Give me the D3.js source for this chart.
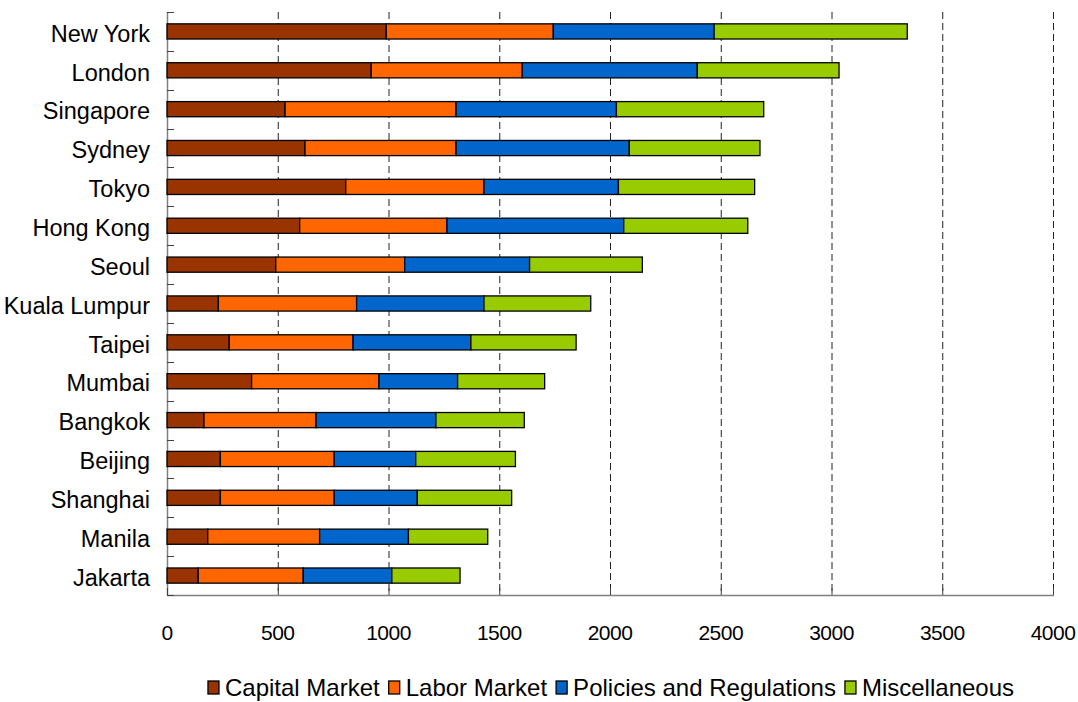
<!DOCTYPE html>
<html>
<head>
<meta charset="utf-8">
<script src="https://cdn.jsdelivr.net/npm/d3@7"></script>
<style>
  body { margin: 0; background: #fff; }
  text { font-family: "Liberation Sans", Arial, sans-serif; fill: #000; }
</style>
</head>
<body>
<svg width="1078" height="702"></svg>
<script>
var cities = ["New York", "London", "Singapore", "Sydney", "Tokyo", "Hong Kong", "Seoul",
  "Kuala Lumpur", "Taipei", "Mumbai", "Bangkok", "Beijing", "Shanghai", "Manila", "Jakarta"];
var capitalMarket = [990, 922, 533, 623, 807, 599, 491, 232, 281, 382, 167, 241, 241, 184, 141];
var laborMarket   = [754, 682, 772, 682, 624, 665, 582, 624, 559, 575, 506, 514, 514, 505, 474];
var policies      = [726, 790, 724, 782, 607, 798, 564, 575, 532, 355, 541, 368, 375, 401, 400];
var miscellaneous = [872, 640, 665, 590, 615, 560, 509, 482, 475, 393, 399, 450, 426, 358, 308];
var seriesNames = ["Capital Market", "Labor Market", "Policies and Regulations", "Miscellaneous"];
var seriesColors = ["#993300", "#ff6600", "#0066cc", "#99cc00"];
var xTicks = [0, 500, 1000, 1500, 2000, 2500, 3000, 3500, 4000];

var svg = d3.select("svg");
var plotLeft = 167, plotRight = 1053, plotTop = 12, plotBottom = 595;

var rows = cities.map(function(c, i) {
  return { city: c, s0: capitalMarket[i], s1: laborMarket[i], s2: policies[i], s3: miscellaneous[i] };
});

var x = d3.scaleLinear().domain([0, 4000]).range([plotLeft, plotRight]);
var y = d3.scaleBand().domain(cities).range([plotTop, plotBottom]).paddingInner(0.61).paddingOuter(0.305);
var yOuter = d3.scaleBand().domain(cities).range([plotTop, plotBottom]);

// dashed grid
svg.append("g").selectAll("line")
  .data(xTicks.slice(1))
  .enter().append("line")
    .attr("x1", function(d) { return x(d) + 0.5; })
    .attr("x2", function(d) { return x(d) + 0.5; })
    .attr("y1", plotTop).attr("y2", plotBottom)
    .attr("stroke", "#222").attr("stroke-width", 1)
    .attr("stroke-dasharray", "7,4");

// axes lines
svg.append("line").attr("x1", plotLeft + 0.5).attr("x2", plotLeft + 0.5)
  .attr("y1", plotTop).attr("y2", plotBottom).attr("stroke", "#808080").attr("stroke-width", 1.5);
svg.append("line").attr("x1", plotLeft).attr("x2", plotRight + 1)
  .attr("y1", plotBottom + 0.5).attr("y2", plotBottom + 0.5).attr("stroke", "#808080").attr("stroke-width", 1.5);

// y ticks at band boundaries (inside)
var bounds = cities.map(function(c) { return yOuter(c); }).concat([plotBottom]);
svg.append("g").selectAll("line")
  .data(bounds)
  .enter().append("line")
    .attr("x1", plotLeft).attr("x2", plotLeft + 7)
    .attr("y1", function(d) { return Math.round(d) + 0.5; })
    .attr("y2", function(d) { return Math.round(d) + 0.5; })
    .attr("stroke", "#404040");

// x ticks (inside)
svg.append("g").selectAll("line")
  .data(xTicks)
  .enter().append("line")
    .attr("x1", function(d) { return x(d) + 0.5; })
    .attr("x2", function(d) { return x(d) + 0.5; })
    .attr("y1", plotBottom - 7).attr("y2", plotBottom)
    .attr("stroke", "#404040");

var stack = d3.stack().keys(["s0", "s1", "s2", "s3"]);
var layers = stack(rows);

svg.append("g").selectAll("g")
  .data(layers)
  .enter().append("g")
    .attr("fill", function(d, i) { return seriesColors[i]; })
  .selectAll("rect")
  .data(function(d) { return d; })
  .enter().append("rect")
    .attr("x", function(d) { return x(d[0]); })
    .attr("width", function(d) { return x(d[1]) - x(d[0]); })
    .attr("y", function(d) { return y(d.data.city); })
    .attr("height", y.bandwidth())
    .attr("stroke", "#000").attr("stroke-width", 1.3);

// category labels
svg.append("g").selectAll("text")
  .data(cities)
  .enter().append("text")
    .attr("x", 150)
    .attr("y", function(d) { return yOuter(d) + yOuter.bandwidth() / 2 + 2; })
    .attr("dy", "0.35em")
    .attr("text-anchor", "end")
    .style("font-size", "23.5px")
    .text(function(d) { return d; });

// x tick labels
svg.append("g").selectAll("text")
  .data(xTicks)
  .enter().append("text")
    .attr("x", function(d) { return x(d); })
    .attr("y", 633)
    .attr("dy", "0.35em")
    .attr("text-anchor", "middle")
    .style("font-size", "21px")
    .style("letter-spacing", "-0.5px")
    .text(function(d) { return d; });

// legend
var legend = svg.append("g");
var lx = 0;
seriesNames.forEach(function(name, i) {
  var g = legend.append("g").attr("transform", "translate(" + lx + ",0)");
  g.append("rect").attr("x", 0).attr("y", -7).attr("width", 11).attr("height", 13)
    .attr("fill", seriesColors[i]).attr("stroke", "#000").attr("stroke-width", 1.3);
  var t = g.append("text").attr("x", 17).attr("y", 0).attr("dy", "0.35em")
    .style("font-size", "24px").text(name);
  lx += 17 + t.node().getComputedTextLength() + 9;
});
var lw = lx - 9;
legend.attr("transform", "translate(" + (611 - lw / 2) + ",688)");
</script>
</body>
</html>
